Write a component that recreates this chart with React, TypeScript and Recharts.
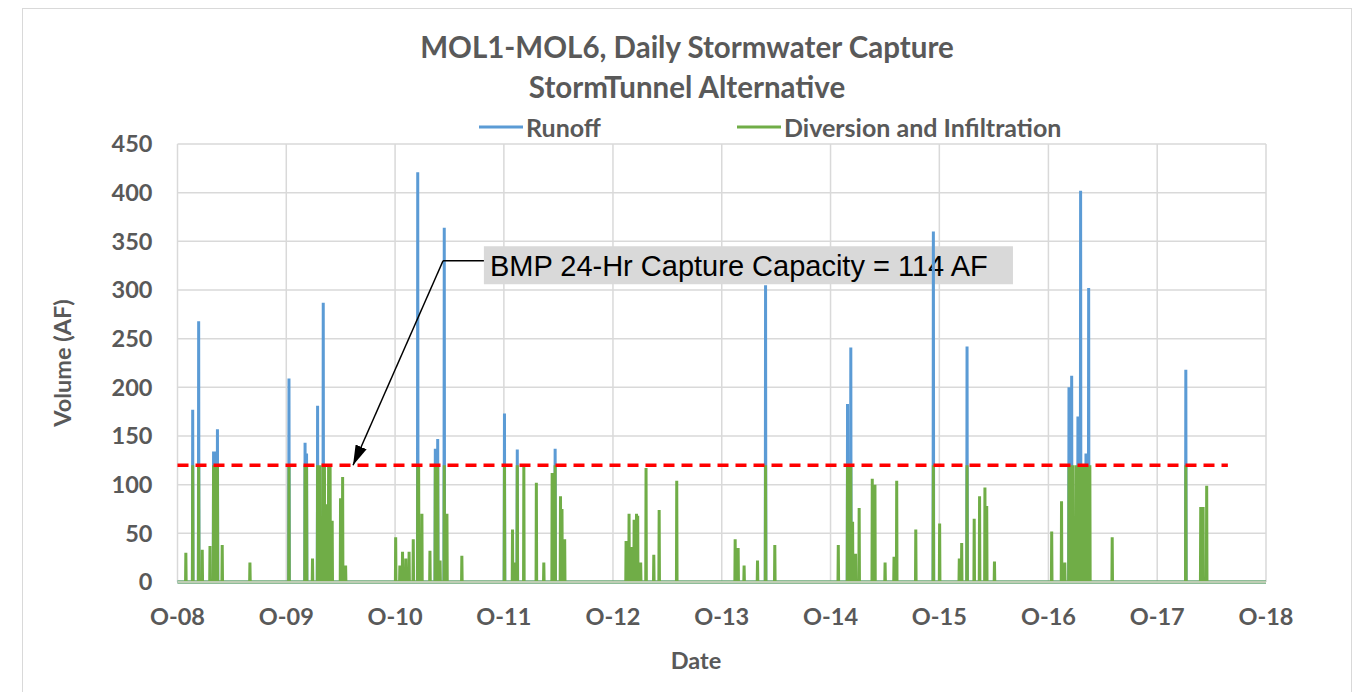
import React from "react";
import {
  LineChart,
  Line,
  XAxis,
  YAxis,
  CartesianGrid,
  ReferenceLine,
  ReferenceArea,
  Legend,
} from "recharts";

// ---------- chart text ----------
const TITLE_LINE_1 = "MOL1-MOL6, Daily Stormwater Capture";
const TITLE_LINE_2 = "StormTunnel Alternative";
const X_TITLE = "Date";
const Y_TITLE = "Volume (AF)";
const ANNOTATION_TEXT = "BMP 24-Hr Capture Capacity = 114 AF";

// ---------- axes ----------
const START_DATE = "2008-10-01";
const X_TICK_DATES = [
  "2008-10-01", "2009-10-01", "2010-10-01", "2011-10-01", "2012-10-01", "2013-10-01",
  "2014-10-01", "2015-10-01", "2016-10-01", "2017-10-01", "2018-10-01",
];
const X_TICK_LABELS = ["O-08", "O-09", "O-10", "O-11", "O-12", "O-13", "O-14", "O-15", "O-16", "O-17", "O-18"];
const Y_TICKS = [0, 50, 100, 150, 200, 250, 300, 350, 400, 450];

// ---------- series (daily values; days not listed are 0) ----------
const SERIES_NAMES = ["Runoff", "Diversion and Infiltration"];

const RUNOFF_DATES = [
  "2008-11-21", "2008-12-11", "2009-01-30", "2009-02-04", "2009-02-12",
  "2009-10-10", "2009-12-03", "2009-12-08", "2010-01-14", "2010-02-02",
  "2010-12-16", "2011-02-13", "2011-02-21", "2011-03-15",
  "2011-10-03", "2011-11-15", "2012-03-21",
  "2014-02-25", "2014-11-27", "2014-12-08",
  "2015-09-11", "2016-01-02",
  "2016-12-09", "2016-12-18", "2017-01-08", "2017-01-17", "2017-02-04", "2017-02-13",
  "2018-01-05",
];
const RUNOFF_AF = [
  177, 268, 134, 134, 157,
  209, 143, 132, 181, 287,
  421, 137, 147, 364,
  173, 136, 137,
  305, 183, 241,
  360, 242,
  200, 212, 170, 402, 132, 302,
  218,
];

const DIVERSION_DATES = [
  "2008-10-29", "2008-11-21", "2008-12-11", "2008-12-23", "2009-01-18", "2009-01-30",
  "2009-02-04", "2009-02-08", "2009-02-12", "2009-02-28", "2009-06-01",
  "2009-10-10", "2009-12-03", "2009-12-08", "2009-12-28", "2010-01-14", "2010-01-18",
  "2010-01-22", "2010-02-02", "2010-02-06", "2010-02-10", "2010-02-20", "2010-02-25",
  "2010-03-04", "2010-04-01", "2010-04-08", "2010-04-18",
  "2010-10-03", "2010-10-17", "2010-10-26", "2010-11-06", "2010-11-17", "2010-12-01",
  "2010-12-16", "2010-12-19", "2010-12-30", "2011-01-26", "2011-02-13", "2011-02-21",
  "2011-03-01", "2011-03-15", "2011-03-24", "2011-05-13",
  "2011-10-03", "2011-10-30", "2011-11-05", "2011-11-15", "2011-12-07", "2012-01-18",
  "2012-02-12", "2012-03-11", "2012-03-21", "2012-04-08", "2012-04-13", "2012-04-22",
  "2012-11-14", "2012-11-24", "2012-12-02", "2012-12-11", "2012-12-19", "2012-12-23",
  "2013-01-02", "2013-01-20", "2013-02-15", "2013-03-05", "2013-05-03",
  "2013-11-15", "2013-11-25", "2013-12-15", "2014-01-29", "2014-02-25", "2014-03-28",
  "2014-10-27", "2014-11-27", "2014-12-03", "2014-12-08", "2014-12-14", "2014-12-24",
  "2015-01-05", "2015-02-18", "2015-02-27", "2015-04-02", "2015-05-02", "2015-05-11",
  "2015-07-14", "2015-09-11",
  "2015-10-02", "2015-12-07", "2015-12-15", "2016-01-02", "2016-01-26", "2016-02-13",
  "2016-03-02", "2016-03-08", "2016-04-03",
  "2016-10-12", "2016-11-14", "2016-11-25", "2016-12-09", "2016-12-13", "2016-12-18",
  "2016-12-23", "2016-12-29", "2017-01-03", "2017-01-08", "2017-01-12", "2017-01-17",
  "2017-01-21", "2017-01-26", "2017-01-30", "2017-02-04", "2017-02-09", "2017-02-13",
  "2017-02-17", "2017-05-03",
  "2018-01-05", "2018-02-24", "2018-03-04", "2018-03-16",
];
const DIVERSION_AF = [
  30, 120, 120, 33, 37, 120,
  120, 120, 120, 38, 20,
  120, 120, 120, 24, 120, 120,
  120, 120, 120, 80, 120, 120,
  63, 86, 108, 17,
  46, 17, 31, 24, 31, 44,
  120, 120, 70, 32, 120, 120,
  22, 120, 70, 27,
  120, 54, 20, 120, 120, 102,
  20, 112, 120, 88, 75, 44,
  42, 70, 36, 64, 70, 68,
  20, 117, 28, 74, 104,
  44, 35, 17, 22, 120, 38,
  38, 120, 120, 120, 62, 29,
  76, 106, 100, 20, 26, 104,
  54, 120,
  60, 24, 40, 120, 65, 88,
  97, 78, 21,
  52, 83, 20, 120, 120, 120,
  120, 60, 120, 120, 120, 120,
  120, 36, 120, 120, 120, 120,
  120, 46,
  120, 77, 77, 99,
];

// ---------- capacity line & annotation (in data units) ----------
const CAPACITY_AF = 120;
const CAPACITY_END_DATE = "2018-05-26";
const ANNOT_BOX_DAYS = [1028, 2803];
const ANNOT_BOX_AF = [306, 345];
const ANNOT_ELBOW = { day: 891, af: 330 };
const ANNOT_TIP = { day: 589, af: 120 };

// ---------- styling ----------
const SERIES_COLORS = ["#5B9BD5", "#70AD47"];
const TEXT = "#595959";
const GRID = "#D9D9D9";
const FONT = "Lato, 'Open Sans', sans-serif";

const DAY_MS = 86400000;
const parseDay = (s: string) => {
  const [y, m, d] = s.split("-").map(Number);
  return Date.UTC(y, m - 1, d);
};
const dayOf = (s: string) => Math.round((parseDay(s) - parseDay(START_DATE)) / DAY_MS);

const X_TICKS = X_TICK_DATES.map(dayOf);
const TOTAL_DAYS = X_TICKS[X_TICKS.length - 1];

const rows = Array.from({ length: TOTAL_DAYS + 1 }, (_, i) => ({ day: i, runoff: 0, diversion: 0 }));
RUNOFF_DATES.forEach((d, i) => {
  rows[dayOf(d)].runoff = RUNOFF_AF[i];
});
DIVERSION_DATES.forEach((d, i) => {
  rows[dayOf(d)].diversion = DIVERSION_AF[i];
});

const tickLabel = (v: number) => {
  const idx = X_TICKS.indexOf(v);
  return idx >= 0 ? X_TICK_LABELS[idx] : "";
};

const tickStyle = { fontSize: 23.5, fontFamily: FONT, fontWeight: 700, fill: TEXT };

const LEGEND_X = [479, 737];

const LegendContent = () => (
  <svg width={1362} height={34} style={{ display: "block" }}>
    {SERIES_NAMES.map((name, i) => {
      const x = LEGEND_X[i];
      return (
        <g key={name}>
          <line x1={x} x2={x + 44} y1={17} y2={17} stroke={SERIES_COLORS[i]} strokeWidth={3} />
          <text
            x={x + 47}
            y={17}
            dominantBaseline="central"
            fontFamily={FONT}
            fontWeight={700}
            fontSize={25}
            fill={TEXT}
          >
            {name}
          </text>
        </g>
      );
    })}
  </svg>
);

const ArrowLine = (props: any) => (
  <line
    x1={props.x1}
    y1={props.y1}
    x2={props.x2}
    y2={props.y2}
    stroke="#000"
    strokeWidth={1.5}
    markerEnd="url(#annotArrow)"
  />
);

const PlainLine = (props: any) => (
  <line x1={props.x1} y1={props.y1} x2={props.x2} y2={props.y2} stroke="#000" strokeWidth={1.5} />
);

const AnnotLabel = (props: any) => {
  const vb = props.viewBox || {};
  return (
    <text
      x={vb.x + 6}
      y={vb.y + vb.height / 2 + 1}
      dominantBaseline="central"
      fontFamily="'Liberation Sans', Arial, sans-serif"
      fontSize={29}
      fill="#000"
    >
      {ANNOTATION_TEXT}
    </text>
  );
};

export default function App() {
  return (
    <div style={{ position: "absolute", left: 0, top: 0, width: 1362, height: 692, background: "#fff", overflow: "hidden" }}>
      <div
        style={{
          position: "absolute",
          left: 22,
          top: 8,
          width: 1330,
          height: 720,
          border: "1px solid #D9D9D9",
          boxSizing: "border-box",
        }}
      />
      <svg width={0} height={0} style={{ position: "absolute" }}>
        <defs>
          <marker
            id="annotArrow"
            viewBox="0 0 20 12"
            refX={20}
            refY={6}
            markerWidth={20}
            markerHeight={12}
            markerUnits="userSpaceOnUse"
            orient="auto"
          >
            <path d="M0,0 L20,6 L0,12 z" fill="#000" />
          </marker>
        </defs>
      </svg>
      <div style={{ position: "absolute", left: 0, top: 0 }}>
        <LineChart
          width={1362}
          height={692}
          data={rows}
          margin={{ top: 144, right: 96, bottom: 50, left: 0 }}
        >
          <CartesianGrid stroke={GRID} strokeWidth={1.5} vertical horizontal />
          <XAxis
            dataKey="day"
            type="number"
            domain={[0, TOTAL_DAYS]}
            ticks={X_TICKS}
            tickFormatter={tickLabel}
            interval={0}
            height={60}
            tickSize={0}
            tickMargin={26}
            tickLine={false}
            axisLine={{ stroke: GRID, strokeWidth: 1.5 }}
            tick={tickStyle}
          />
          <YAxis
            type="number"
            domain={[0, 450]}
            ticks={Y_TICKS}
            interval={0}
            width={177.5}
            tickSize={0}
            tickMargin={25}
            tickLine={false}
            axisLine={false}
            tick={tickStyle}
          />
          <Legend
            verticalAlign="middle"
            layout="horizontal"
            wrapperStyle={{ top: 110, left: 0, width: 1362, height: 34 }}
            content={<LegendContent />}
          />
          <Line
            name={SERIES_NAMES[0]}
            dataKey="runoff"
            type="linear"
            stroke={SERIES_COLORS[0]}
            strokeWidth={3}
            dot={false}
            activeDot={false}
            isAnimationActive={false}
          />
          <Line
            name={SERIES_NAMES[1]}
            dataKey="diversion"
            type="linear"
            stroke={SERIES_COLORS[1]}
            strokeWidth={3}
            dot={false}
            activeDot={false}
            isAnimationActive={false}
          />
          <ReferenceLine
            segment={[
              { x: 0, y: CAPACITY_AF },
              { x: dayOf(CAPACITY_END_DATE), y: CAPACITY_AF },
            ]}
            stroke="#FF0000"
            strokeWidth={3.5}
            strokeDasharray="11 7"
          />
          <ReferenceArea
            x1={ANNOT_BOX_DAYS[0]}
            x2={ANNOT_BOX_DAYS[1]}
            y1={ANNOT_BOX_AF[0]}
            y2={ANNOT_BOX_AF[1]}
            fill="#D9D9D9"
            fillOpacity={1}
            stroke="none"
            label={<AnnotLabel />}
          />
          <ReferenceLine
            segment={[
              { x: ANNOT_BOX_DAYS[0], y: ANNOT_ELBOW.af },
              { x: ANNOT_ELBOW.day, y: ANNOT_ELBOW.af },
            ]}
            shape={PlainLine}
          />
          <ReferenceLine
            segment={[
              { x: ANNOT_ELBOW.day, y: ANNOT_ELBOW.af },
              { x: ANNOT_TIP.day, y: ANNOT_TIP.af },
            ]}
            shape={ArrowLine}
          />
        </LineChart>
      </div>
      <svg width={1362} height={692} style={{ position: "absolute", left: 0, top: 0, pointerEvents: "none" }}>
        <text x={687} y={46} textAnchor="middle" dominantBaseline="central" fontFamily={FONT} fontWeight={700} fontSize={29.5} fill={TEXT}>
          {TITLE_LINE_1}
        </text>
        <text x={687} y={86} textAnchor="middle" dominantBaseline="central" fontFamily={FONT} fontWeight={700} fontSize={29.5} fill={TEXT}>
          {TITLE_LINE_2}
        </text>
        <text x={696} y={660} textAnchor="middle" dominantBaseline="central" fontFamily={FONT} fontWeight={700} fontSize={23.5} fill={TEXT}>
          {X_TITLE}
        </text>
        <text
          x={62}
          y={363}
          textAnchor="middle"
          dominantBaseline="central"
          transform="rotate(-90 62 363)"
          fontFamily={FONT}
          fontWeight={700}
          fontSize={23.5}
          fill={TEXT}
        >
          {Y_TITLE}
        </text>
      </svg>
    </div>
  );
}
